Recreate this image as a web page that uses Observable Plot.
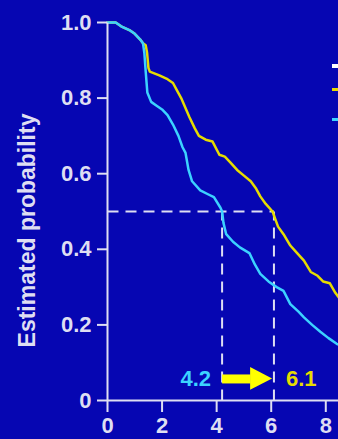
<!DOCTYPE html>
<html>
<head>
<meta charset="utf-8">
<script src="https://cdn.jsdelivr.net/npm/d3@7"></script>
<script src="https://cdn.jsdelivr.net/npm/@observablehq/plot@0.6"></script>
<style>
  html, body { margin: 0; padding: 0; background: #0606b2; overflow: hidden; width: 338px; height: 439px; }
  #wrap { position: relative; width: 338px; height: 439px; overflow: hidden; }
  #wrap svg { max-width: none !important; width: 489px; height: 439px; display: block; }
  .sw { position: absolute; left: 332px; width: 12px; }
</style>
</head>
<body>
<div id="wrap"></div>
<script>
// ---- data ----
const yellowT = [0, 0.3, 0.5, 0.8, 1.0, 1.2, 1.3, 1.4, 1.45, 1.5, 1.55, 1.9, 2.2, 2.4, 2.55, 2.7, 2.85, 3.0, 3.2, 3.35, 3.6, 3.85, 4.1, 4.3, 4.5, 4.75, 5.0, 5.25, 5.45, 5.6, 5.8, 6.05, 6.15, 6.25, 6.45, 6.7, 6.95, 7.2, 7.45, 7.7, 7.9, 8.15, 8.35, 8.5, 8.7];
const yellowP = [1.0, 1.0, 0.99, 0.98, 0.97, 0.955, 0.945, 0.94, 0.92, 0.88, 0.87, 0.86, 0.85, 0.84, 0.82, 0.80, 0.775, 0.75, 0.72, 0.70, 0.69, 0.685, 0.65, 0.645, 0.63, 0.61, 0.595, 0.58, 0.56, 0.54, 0.52, 0.50, 0.48, 0.46, 0.44, 0.41, 0.39, 0.37, 0.34, 0.33, 0.315, 0.31, 0.285, 0.27, 0.25];
const cyanT = [0, 0.3, 0.5, 0.8, 1.0, 1.2, 1.3, 1.35, 1.4, 1.46, 1.6, 1.8, 2.0, 2.2, 2.4, 2.6, 2.75, 2.86, 2.97, 3.1, 3.4, 3.7, 3.9, 4.14, 4.2, 4.25, 4.35, 4.6, 4.85, 5.2, 5.4, 5.6, 5.9, 6.2, 6.45, 6.7, 7.0, 7.2, 7.5, 7.8, 8.1, 8.4, 8.7];
const cyanP = [1.0, 1.0, 0.99, 0.98, 0.97, 0.955, 0.945, 0.92, 0.87, 0.815, 0.79, 0.78, 0.77, 0.755, 0.73, 0.70, 0.67, 0.655, 0.61, 0.58, 0.556, 0.545, 0.538, 0.51, 0.50, 0.47, 0.44, 0.42, 0.405, 0.39, 0.36, 0.335, 0.315, 0.30, 0.29, 0.255, 0.235, 0.22, 0.20, 0.182, 0.165, 0.15, 0.14];
const medianLevel = 0.5;
const medians = [4.2, 6.1];          // cyan, yellow
const medianLabels = ["4.2", "6.1"];
const xTicks = [0, 2, 4, 6, 8];
const yTicks = [0, 0.2, 0.4, 0.6, 0.8, 1.0];
const yLabel = "Estimated probability";
const arrowLevel = 0.057;

// ---- styles ----
const BG = "#0606b2";
const AX = "#dedef2";
const YEL = "#e6dc00";
const CYA = "#3cd2ff";
const ARROW = "#ffff00";

const yellow = yellowT.map((t, i) => ({t, p: yellowP[i]}));
const cyan = cyanT.map((t, i) => ({t, p: cyanP[i]}));
const hLine = [{x1: 0, x2: medians[1], y: medianLevel}];
const vLines = medians.map(m => ({x: m, y1: 0, y2: medianLevel}));
const yAxisLine = [{x: 0, y1: 0, y2: 1}];
const headStart = medians[0] + 0.55 * (medians[1] - medians[0]);
const shaft = [{x1: medians[0], x2: headStart, y: arrowLevel}];
const head = [
  {x: headStart, y1: arrowLevel - 0.03, y2: arrowLevel + 0.03},
  {x: medians[1] - 0.05, y1: arrowLevel, y2: arrowLevel}
];
const labels = [
  {x: medians[0], y: arrowLevel, text: medianLabels[0]},
  {x: medians[1], y: arrowLevel, text: medianLabels[1]}
];

const chart = Plot.plot({
  width: 489,
  height: 439,
  marginLeft: 107,
  marginRight: 0,
  marginTop: 22,
  marginBottom: 39,
  style: {background: BG, color: AX, fontFamily: "'Liberation Sans', Arial, sans-serif", fontSize: "22px", fontWeight: "bold", maxWidth: "none"},
  x: {domain: [0, 14], axis: null},
  y: {domain: [0, 1], axis: null},
  marks: [
    Plot.link(hLine, {x1: "x1", x2: "x2", y1: "y", y2: "y", stroke: AX, strokeWidth: 2, strokeDasharray: "11,7"}),
    Plot.link(vLines, {x1: "x", x2: "x", y1: "y1", y2: "y2", stroke: AX, strokeWidth: 2, strokeDasharray: "11,7"}),
    Plot.line(yellow, {x: "t", y: "p", stroke: YEL, strokeWidth: 2.5}),
    Plot.line(cyan, {x: "t", y: "p", stroke: CYA, strokeWidth: 2.5}),
    Plot.link(shaft, {x1: "x1", x2: "x2", y1: "y", y2: "y", stroke: ARROW, strokeWidth: 9}),
    Plot.areaY(head, {x: "x", y1: "y1", y2: "y2", fill: ARROW}),
    Plot.text(labels.slice(0, 1), {x: "x", y: "y", text: "text", textAnchor: "end", dx: -11, fill: CYA, fontSize: 22, fontWeight: "bold"}),
    Plot.text(labels.slice(1), {x: "x", y: "y", text: "text", textAnchor: "start", dx: 12, fill: YEL, fontSize: 22, fontWeight: "bold"}),
    Plot.link(yAxisLine, {x1: "x", x2: "x", y1: "y1", y2: "y2", stroke: AX, strokeWidth: 2}),
    Plot.ruleY([0], {stroke: AX, strokeWidth: 2}),
    Plot.axisY({ticks: yTicks, tickFormat: d => d === 0 ? "0" : d.toFixed(1), tickSize: 10, tickPadding: 6, stroke: AX, strokeWidth: 2, fill: AX, label: null, fontSize: 22, fontWeight: "bold"}),
    Plot.axisX({ticks: xTicks, tickFormat: d => String(d), tickSize: 12, tickPadding: 5, stroke: AX, strokeWidth: 2, fill: AX, label: null, fontSize: 22, fontWeight: "bold"}),
    Plot.text([yLabel], {frameAnchor: "left", textAnchor: "middle", rotate: -90, dx: -80, dy: 19, text: d => d, fill: AX, fontSize: 23, fontWeight: "bold"})
  ]
});

const wrap = document.getElementById("wrap");
wrap.appendChild(chart);

// legend swatches (labels fall outside the cropped view)
[[66, 4, "#ffffff"], [89, 3, YEL], [119, 3, CYA]].forEach(([top, h, c]) => {
  const s = document.createElement("div");
  s.className = "sw";
  s.style.top = (top - h / 2) + "px";
  s.style.height = h + "px";
  s.style.background = c;
  wrap.appendChild(s);
});
</script>
</body>
</html>
